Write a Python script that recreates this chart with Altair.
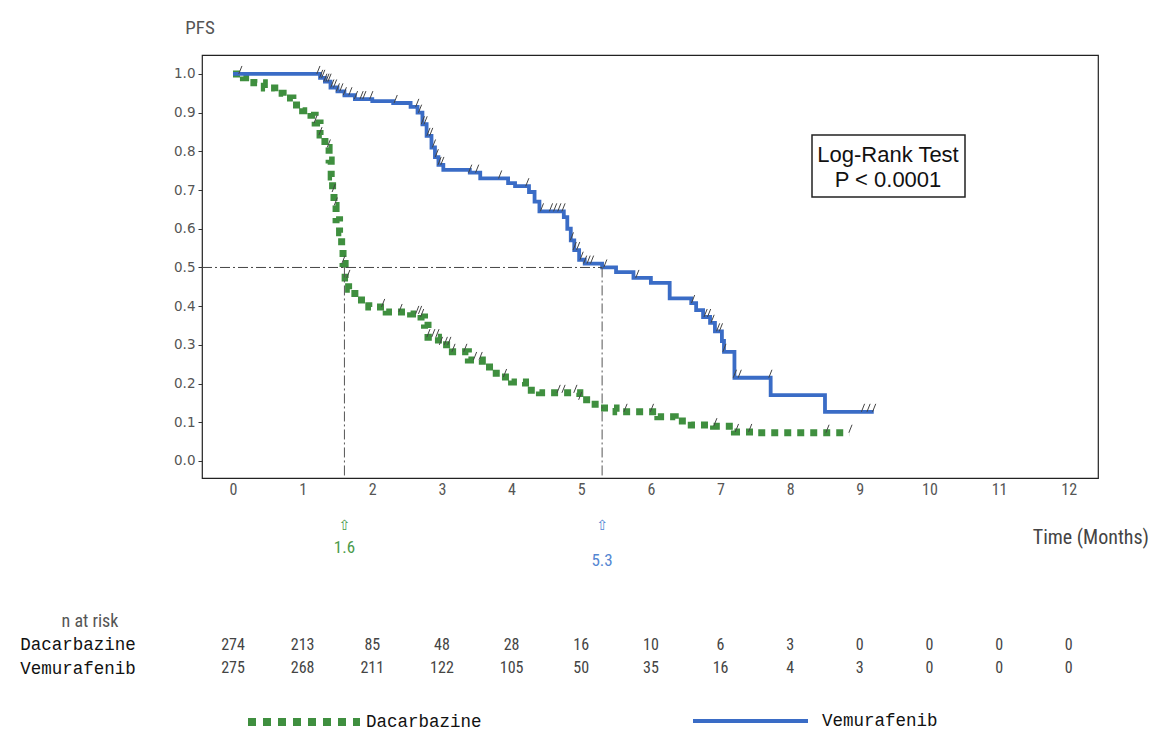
import altair as alt
import pandas as pd

# ---------------- data ----------------
vem_time = [0, 1.25, 1.32, 1.40, 1.50, 1.60, 1.75, 2.00, 2.30, 2.55, 2.65, 2.72, 2.78, 2.85,
            2.90, 2.95, 3.02, 3.40, 3.55, 3.95, 4.05, 4.25, 4.33, 4.40, 4.75, 4.80, 4.85,
            4.90, 4.97, 5.05, 5.30, 5.50, 5.75, 6.00, 6.27, 6.58, 6.65, 6.75, 6.85, 6.92,
            7.02, 7.05, 7.20, 7.72, 8.50, 9.20]
vem_surv = [1.0, 0.99, 0.98, 0.965, 0.955, 0.945, 0.935, 0.93, 0.925, 0.915, 0.90, 0.87, 0.84,
            0.81, 0.785, 0.765, 0.752, 0.745, 0.73, 0.718, 0.71, 0.695, 0.67, 0.645, 0.63,
            0.60, 0.57, 0.545, 0.52, 0.51, 0.50, 0.488, 0.473, 0.46, 0.42, 0.408, 0.39,
            0.372, 0.357, 0.335, 0.31, 0.282, 0.215, 0.17, 0.127, 0.127]

dac_time = [0, 0.15, 0.30, 0.45, 0.60, 0.72, 0.86, 1.00, 1.12, 1.18, 1.25, 1.32, 1.38, 1.41,
            1.43, 1.45, 1.48, 1.53, 1.56, 1.58, 1.61, 1.66, 1.75, 1.95, 2.20, 2.55, 2.70,
            2.75, 2.80, 2.95, 3.15, 3.38, 3.58, 3.78, 4.00, 4.20, 4.40, 4.98, 5.20, 5.50,
            6.10, 6.35, 6.58, 6.90, 7.20, 7.50, 8.85]
dac_surv = [1.0, 0.99, 0.977, 0.964, 0.95, 0.938, 0.92, 0.905, 0.893, 0.873, 0.842, 0.81,
            0.778, 0.734, 0.695, 0.66, 0.623, 0.59, 0.55, 0.51, 0.473, 0.444, 0.416, 0.398,
            0.385, 0.38, 0.372, 0.351, 0.32, 0.30, 0.282, 0.261, 0.243, 0.217, 0.204, 0.183,
            0.176, 0.158, 0.137, 0.127, 0.114, 0.103, 0.093, 0.09, 0.075, 0.073, 0.073]

vem_censor = [0.10, 1.22, 1.26, 1.29, 1.32, 1.35, 1.38, 1.42, 1.46, 1.50, 1.55, 1.60, 1.68,
              1.76, 1.84, 1.88, 1.98, 2.33, 2.64, 2.68, 2.72, 2.76, 2.80, 2.84, 2.88, 2.92,
              2.96, 3.00, 3.40, 3.50, 3.83, 4.22, 4.43, 4.56, 4.62, 4.68, 4.74, 4.86, 4.90,
              4.95, 5.00, 5.05, 5.10, 5.15, 5.34, 5.80, 6.60, 6.78, 6.83, 6.88, 6.96, 7.00,
              7.05, 7.20, 7.27, 7.71, 9.04, 9.12, 9.20]
dac_censor = [1.18, 1.25, 1.37, 1.44, 1.47, 1.58, 1.65, 2.15, 2.40, 2.64, 2.68, 2.71, 2.80,
              2.87, 2.93, 2.98, 3.05, 3.10, 3.16, 3.33, 3.47, 3.55, 3.90, 4.67, 4.74, 4.91,
              4.98, 5.63, 6.01, 6.92, 7.23, 7.42, 8.53, 8.86]

medians = [1.6, 5.3]
median_labels = ["1.6", "5.3"]

risk_times = list(range(13))
risk_dac = [274, 213, 85, 48, 28, 16, 10, 6, 3, 0, 0, 0, 0]
risk_vem = [275, 268, 211, 122, 105, 50, 35, 16, 4, 3, 0, 0, 0]

x_ticks = list(range(13))
y_ticks = [round(i * 0.1, 1) for i in range(11)]

# ---------------- styling ----------------
BLUE = "#3a6cc6"
GREEN = "#3f8f3f"
GRAY = "#555555"
NARROW = "Liberation Sans Narrow, Roboto Condensed, Liberation Sans, sans-serif"
MONO = "Liberation Mono, DejaVu Sans Mono, monospace"
X_DOMAIN = [-0.445, 12.42]
Y_DOMAIN = [-0.044, 1.049]
W, H = 896, 423

xscale = alt.Scale(domain=X_DOMAIN, nice=False, zero=False)
yscale = alt.Scale(domain=Y_DOMAIN, nice=False, zero=False)

x_axis = alt.Axis(values=x_ticks, ticks=False, labelPadding=3, labelFontSize=16,
                  labelFont=NARROW, labelColor=GRAY, domain=False, grid=False, title=None)
y_axis = alt.Axis(values=y_ticks, format=".1f", tickSize=4, tickColor="#333",
                  labelPadding=3, labelFontSize=13.5, labelFont="DejaVu Sans",
                  labelColor=GRAY, domain=False, grid=False, title=None)


def step_value(times, survs, t):
    v = survs[0]
    for ti, si in zip(times, survs):
        if ti <= t + 1e-9:
            v = si
    return v


vem_df = pd.DataFrame({"t": vem_time, "s": vem_surv})
dac_df = pd.DataFrame({"t": dac_time, "s": dac_surv})
vem_c = pd.DataFrame({"t": vem_censor,
                      "s": [step_value(vem_time, vem_surv, t) for t in vem_censor]})
dac_c = pd.DataFrame({"t": dac_censor,
                      "s": [step_value(dac_time, dac_surv, t) for t in dac_censor]})


def X():
    return alt.X("t:Q", scale=xscale, axis=x_axis)


def Y():
    return alt.Y("s:Q", scale=yscale, axis=y_axis)


dac_line = alt.Chart(dac_df).mark_line(
    interpolate="step-after", color=GREEN, strokeWidth=7, strokeDash=[7, 6],
    strokeCap="butt").encode(x=X(), y=Y())
vem_line = alt.Chart(vem_df).mark_line(
    interpolate="step-after", color=BLUE, strokeWidth=3.8).encode(x=X(), y=Y())

SLASH = "M -0.15 0 L 0.25 -1"
dac_cens = alt.Chart(dac_c).mark_point(
    shape=SLASH, size=256, filled=False, stroke="#444", strokeWidth=1,
    opacity=1).encode(x=X(), y=Y())
vem_cens = alt.Chart(vem_c).mark_point(
    shape=SLASH, size=256, filled=False, stroke="#444", strokeWidth=1,
    opacity=1).encode(x=X(), y=Y())

DASHDOT = [10, 3, 2, 3]
h_ref = alt.Chart(pd.DataFrame({"t": [X_DOMAIN[0]], "t2": [medians[1]], "s": [0.5]})).mark_rule(
    color="#444", strokeWidth=1, strokeDash=DASHDOT).encode(x=X(), x2="t2:Q", y=Y())
v_ref = alt.Chart(pd.DataFrame({"t": medians, "s": [0.5, 0.5],
                                "s2": [Y_DOMAIN[0], Y_DOMAIN[0]]})).mark_rule(
    color="#555", strokeWidth=1, strokeDash=DASHDOT).encode(x=X(), y=Y(), y2="s2:Q")

med_df = pd.DataFrame({"t": medians, "lab": median_labels, "col": ["#4a9a4a", "#5486d2"],
                       "ly": [493, 506]})
med_arrow = alt.Chart(med_df).mark_text(text="⇧", fontSize=14, font="DejaVu Sans").encode(
    x=X(), y=alt.value(471), color=alt.Color("col:N", scale=None))
med_text = alt.Chart(med_df).mark_text(fontSize=17, font=NARROW).encode(
    x=X(), y=alt.Y("ly:Q", scale=None), text="lab:N", color=alt.Color("col:N", scale=None))

risk_df = pd.DataFrame({"t": risk_times, "dac": risk_dac, "vem": risk_vem})
risk_d = alt.Chart(risk_df).mark_text(fontSize=16, font=NARROW, color="#444").encode(
    x=X(), y=alt.value(590), text="dac:Q")
risk_v = alt.Chart(risk_df).mark_text(fontSize=16, font=NARROW, color="#444").encode(
    x=X(), y=alt.value(613), text="vem:Q")

dummy = pd.DataFrame({"a": [0]})


def label(text, x, y, **kw):
    return alt.Chart(dummy).mark_text(text=text, **kw).encode(x=alt.value(x), y=alt.value(y))


texts = [
    label("PFS", -2, -27, fontSize=19, font=NARROW, color=GRAY),
    label("Time (Months)", 947, 483, fontSize=20, font=NARROW, color="#444", align="right"),
    label("n at risk", -112, 567, fontSize=18, font=NARROW, color=GRAY),
    label("Dacarbazine", -124, 590, fontSize=17.5, font=MONO, color="#111"),
    label("Vemurafenib", -124, 614, fontSize=17.5, font=MONO, color="#111"),
    label("Dacarbazine", 164, 667, fontSize=17.5, font=MONO, color="#111", align="left"),
    label("Vemurafenib", 620, 666, fontSize=17.5, font=MONO, color="#111", align="left"),
]

box = alt.Chart(dummy).mark_rect(fill="white", stroke="#222", strokeWidth=1.5).encode(
    x=alt.value(610), x2=alt.value(763), y=alt.value(80), y2=alt.value(142))
box_t1 = label("Log-Rank Test", 686, 100, fontSize=22, font="Liberation Sans", color="#111")
box_t2 = label("P < 0.0001", 686, 125, fontSize=22, font="Liberation Sans", color="#111")

leg_dac = alt.Chart(dummy).mark_rule(color=GREEN, strokeWidth=8, strokeDash=[8, 7],
                                     strokeCap="butt").encode(
    x=alt.value(46), x2=alt.value(158), y=alt.value(667))
leg_vem = alt.Chart(dummy).mark_rule(color=BLUE, strokeWidth=4).encode(
    x=alt.value(491), x2=alt.value(606), y=alt.value(666))

chart = alt.layer(
    dac_line, vem_line, h_ref, v_ref, dac_cens, vem_cens,
    med_arrow, med_text, risk_d, risk_v, *texts, box, box_t1, box_t2, leg_dac, leg_vem
).properties(
    width=W, height=H,
    padding={"left": 194, "top": 47, "right": 53, "bottom": 256},
    autosize=alt.AutoSizeParams(type="none"),
).configure_view(stroke="#222", strokeWidth=1.2)

chart.save("out.html", embed_options={"renderer": "svg", "actions": False})
